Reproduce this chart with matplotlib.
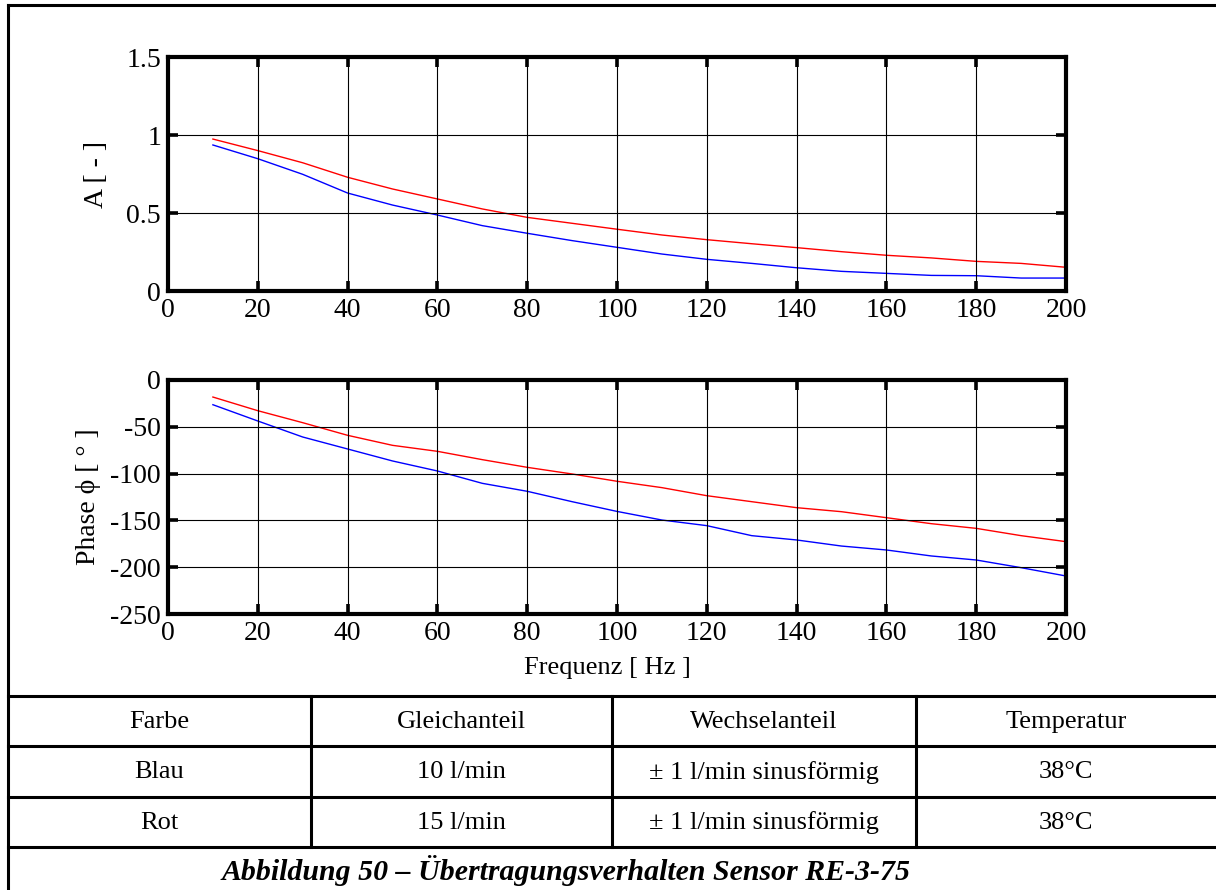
import matplotlib
matplotlib.use("Agg")
import matplotlib.pyplot as plt
import numpy as np

plt.rcParams['font.family'] = ['Liberation Serif', 'DejaVu Serif']
plt.rcParams['axes.unicode_minus'] = False

# Frequency axis [Hz]
freq = [10, 20, 30, 40, 50, 60, 70, 80, 90, 100,
        110, 120, 130, 140, 150, 160, 170, 180, 190, 200]

# Amplitude ratio A [-]
amp_blau = [0.936, 0.848, 0.748, 0.628, 0.551, 0.487, 0.419, 0.370, 0.323, 0.280,
            0.237, 0.203, 0.177, 0.149, 0.126, 0.113, 0.100, 0.098, 0.083, 0.083]
amp_rot = [0.974, 0.900, 0.822, 0.729, 0.654, 0.590, 0.526, 0.472, 0.434, 0.396,
           0.359, 0.329, 0.303, 0.278, 0.252, 0.229, 0.212, 0.190, 0.177, 0.152]

# Phase [deg]
phase_blau = [-26.4, -43.8, -60.9, -73.7, -86.5, -97.2, -110.4, -118.9, -130.0, -140.4,
              -149.6, -155.6, -166.3, -170.9, -177.4, -181.6, -188.0, -192.3, -200.5, -209.4]
phase_rot = [-18.2, -32.8, -45.6, -59.1, -69.8, -76.2, -85.1, -93.3, -100.4, -108.2,
             -115.0, -123.6, -130.0, -136.4, -140.7, -147.1, -153.5, -158.5, -166.3, -172.7]

x_ticks = [0, 20, 40, 60, 80, 100, 120, 140, 160, 180, 200]
amp_ticks = [0, 0.5, 1, 1.5]
amp_ticklabels = ["0", "0.5", "1", "1.5"]
phase_ticks = [0, -50, -100, -150, -200, -250]

# Table contents
table_header = ["Farbe", "Gleichanteil", "Wechselanteil", "Temperatur"]
table_rows = [
    ["Blau", "10 l/min", "± 1 l/min sinusförmig", "38°C"],
    ["Rot", "15 l/min", "± 1 l/min sinusförmig", "38°C"],
]
caption = "Abbildung 50 – Übertragungsverhalten Sensor RE-3-75"

W, H = 1216, 890
fig = plt.figure(figsize=(W / 100, H / 100), dpi=100)

# Background layer in pixel coordinates for the frame and the table
bg = fig.add_axes([0, 0, 1, 1], zorder=-1)
bg.set_xlim(0, W)
bg.set_ylim(H, 0)
bg.axis('off')

frame_lw = 2.2
bg.plot([8, W], [5, 5], color='black', lw=frame_lw, solid_capstyle='projecting')
bg.plot([8, 8], [5, H], color='black', lw=frame_lw, solid_capstyle='projecting')

row_lines = [696, 746, 797, 847]
col_lines = [8, 311, 612, 916, W]
for y in row_lines:
    bg.plot([8, W], [y, y], color='black', lw=frame_lw)
for x in col_lines[1:-1]:
    bg.plot([x, x], [row_lines[0], row_lines[-1]], color='black', lw=frame_lw)

col_centers = [(col_lines[i] + col_lines[i + 1]) / 2 for i in range(4)]
row_centers = [(row_lines[i] + row_lines[i + 1]) / 2 for i in range(3)]
table_fs = 19
for ci, txt in enumerate(table_header):
    bg.text(col_centers[ci], row_centers[0] + 1, txt, ha='center', va='center', fontsize=table_fs)
for ri, row in enumerate(table_rows):
    for ci, txt in enumerate(row):
        bg.text(col_centers[ci], row_centers[ri + 1] + 1, txt, ha='center', va='center',
                fontsize=table_fs)
bg.text(566, 870, caption, ha='center', va='center', fontsize=21.5,
        fontweight='bold', fontstyle='italic')


def style_axes(ax):
    for sp in ax.spines.values():
        sp.set_linewidth(3.0)
    ax.tick_params(direction='in', length=7, width=2.6, top=True, right=True,
                   labelsize=20, pad=5)
    ax.grid(True, color='black', lw=0.8)
    ax.set_axisbelow(False)
    ax.set_xlim(0, 200)
    ax.set_xticks(x_ticks)


left = 168 / W
width = (1066 - 168) / W
height = 234 / H

ax1 = fig.add_axes([left, 1 - 291 / H, width, height])
ax1.plot(freq, amp_rot, color='red', lw=1.0)
ax1.plot(freq, amp_blau, color='blue', lw=1.0)
style_axes(ax1)
ax1.set_ylim(0, 1.5)
ax1.set_yticks(amp_ticks)
ax1.set_yticklabels(amp_ticklabels)
ax1.set_ylabel("A [ - ]", fontsize=20)
ax1.yaxis.set_label_coords(-0.066, 0.5)

ax2 = fig.add_axes([left, 1 - 614 / H, width, height])
ax2.plot(freq, phase_rot, color='red', lw=1.0)
ax2.plot(freq, phase_blau, color='blue', lw=1.0)
style_axes(ax2)
ax2.set_ylim(-250, 0)
ax2.set_yticks(phase_ticks)
ax2.set_ylabel("Phase ϕ [ ° ]", fontsize=20)
ax2.yaxis.set_label_coords(-0.075, 0.5)
ax2.set_xlabel("Frequenz [ Hz ]", fontsize=19)
ax2.xaxis.set_label_coords(0.489, -(668 - 614) / 234)
ax2.xaxis.label.set_va('center')

fig.savefig("out.png", dpi=100)
